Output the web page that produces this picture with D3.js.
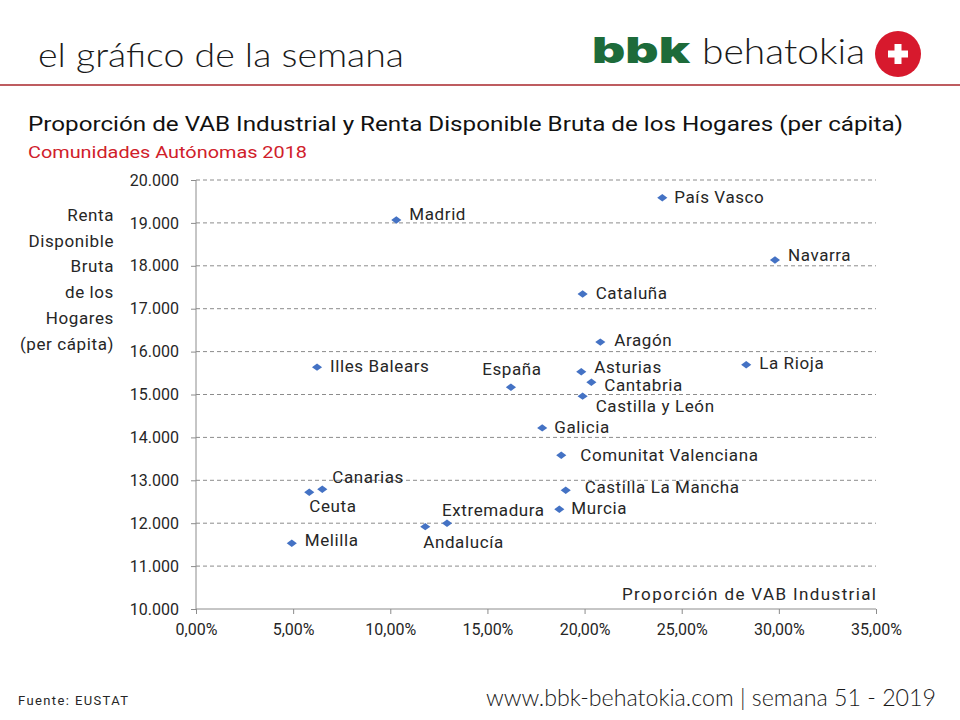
<!DOCTYPE html>
<html>
<head>
<meta charset="utf-8">
<script src="https://cdn.jsdelivr.net/npm/d3@7"></script>
<style>
  body { margin: 0; background: #fff; }
  svg text { font-family: Roboto, "DejaVu Sans", sans-serif; }
</style>
</head>
<body>
<div id="chart"></div>
<script>
// Comunidades autónomas 2018: % VAB industrial vs renta disponible bruta per cápita
const regions = ["Madrid", "País Vasco", "Navarra", "Cataluña", "Aragón", "La Rioja",
    "Asturias", "Cantabria", "Castilla y León", "Illes Balears", "España", "Galicia",
    "Comunitat Valenciana", "Castilla La Mancha", "Murcia", "Canarias", "Ceuta",
    "Extremadura", "Andalucía", "Melilla"];
const vabShare = [10.31, 24.0, 29.8, 19.9, 20.81, 28.32, 19.83, 20.35, 19.9, 6.23, 16.21,
    17.82, 18.8, 19.03, 18.7, 6.5, 5.83, 12.92, 11.8, 4.93];
const renta = [19067, 19587, 18134, 17341, 16221, 15692, 15528, 15288, 14962, 15638, 15171,
    14222, 13585, 12769, 12326, 12792, 12722, 11999, 11920, 11532];

const xTicks = [0, 5, 10, 15, 20, 25, 30, 35];
const yTicks = [10000, 11000, 12000, 13000, 14000, 15000, 16000, 17000, 18000, 19000, 20000];
const yTitleLines = ["Renta", "Disponible", "Bruta", "de los ", "Hogares", "(per cápita)"];

// label placement next to each point: [dx, dy, anchor]
const labelPos = [[13, 0, "start"], [12, 5, "start"], [13, 1, "start"], [13, 5, "start"],
    [14, 4, "start"], [13, 4, "start"], [13, 1, "start"], [13, 9, "start"], [13, 16, "start"],
    [13, 5, "start"], [1, -12, "middle"], [12, 5, "start"], [19, 6, "start"], [19, 3, "start"],
    [12, 5, "start"], [10, -6, "start"], [0, 20, "start"], [-5, -7, "start"], [-2, 21, "start"],
    [13, 3, "start"]];

const width = 960, height = 720;
const plot = { left: 196, top: 180, right: 876, bottom: 609 };
const ink = "#262626";

const svg = d3.select("#chart")
    .append("svg")
    .attr("width", width)
    .attr("height", height);

// ---- header ----
svg.append("text")
    .attr("x", 38).attr("y", 67)
    .attr("font-size", 33).attr("font-weight", 300)
    .attr("fill", "#1a1a1a")
    .attr("textLength", 366).attr("lengthAdjust", "spacingAndGlyphs")
    .style("font-family", "Lato, Roboto, sans-serif")
    .text("el gráfico de la semana");

svg.append("text")
    .attr("x", 592).attr("y", 63)
    .attr("font-size", 36).attr("font-weight", 900)
    .attr("fill", "#1d6b3a")
    .attr("textLength", 98).attr("lengthAdjust", "spacingAndGlyphs")
    .style("font-family", "Inter, Roboto, sans-serif")
    .text("bbk");

svg.append("text")
    .attr("x", 702).attr("y", 64)
    .attr("font-size", 35).attr("font-weight", 300)
    .attr("fill", "#1a1a1a")
    .attr("textLength", 163).attr("lengthAdjust", "spacingAndGlyphs")
    .style("font-family", "Lato, Roboto, sans-serif")
    .text("behatokia");

svg.append("circle")
    .attr("cx", 898).attr("cy", 54).attr("r", 23)
    .attr("fill", "#d7192d");
svg.append("rect").attr("x", 888).attr("y", 50.5).attr("width", 20).attr("height", 7).attr("fill", "#fff");
svg.append("rect").attr("x", 894.5).attr("y", 44).attr("width", 7).attr("height", 20).attr("fill", "#fff");

svg.append("line")
    .attr("x1", 0).attr("x2", width)
    .attr("y1", 85).attr("y2", 85)
    .attr("stroke", "#a8262b").attr("stroke-width", 1.5);

// ---- titles ----
svg.append("text")
    .attr("x", 28).attr("y", 131)
    .attr("font-size", 21)
    .attr("fill", "#111")
    .attr("textLength", 875).attr("lengthAdjust", "spacingAndGlyphs")
    .text("Proporción de VAB Industrial y Renta Disponible Bruta de los Hogares (per cápita)");

svg.append("text")
    .attr("x", 28).attr("y", 158)
    .attr("font-size", 17)
    .attr("fill", "#d0202a")
    .attr("textLength", 279).attr("lengthAdjust", "spacingAndGlyphs")
    .text("Comunidades Autónomas 2018");

// ---- scales ----
const x = d3.scaleLinear().domain([0, 35]).range([plot.left, plot.right]);
const y = d3.scaleLinear().domain([10000, 20000]).range([plot.bottom, plot.top]);

// dashed grid
svg.append("g")
    .selectAll("line")
    .data(yTicks.filter(d => d > 10000))
    .join("line")
    .attr("x1", plot.left).attr("x2", plot.right)
    .attr("y1", d => y(d)).attr("y2", d => y(d))
    .attr("stroke", "#8c8c8c")
    .attr("stroke-dasharray", "4,3")
    .attr("stroke-width", 1);

const fmtY = d => d3.format(",")(d).replace(/,/g, ".");
const fmtX = d => d.toFixed(2).replace(".", ",") + "%";

const yAxis = svg.append("g")
    .attr("transform", `translate(${plot.left},0)`)
    .call(d3.axisLeft(y).tickValues(yTicks).tickFormat(fmtY).tickSize(5).tickPadding(12));

const xAxis = svg.append("g")
    .attr("transform", `translate(0,${plot.bottom})`)
    .call(d3.axisBottom(x).tickValues(xTicks).tickFormat(fmtX).tickSize(5).tickPadding(10));

[yAxis, xAxis].forEach(ax => {
    ax.select(".domain").attr("stroke", "#8c8c8c");
    ax.selectAll(".tick line").attr("stroke", "#8c8c8c");
    ax.selectAll(".tick text")
        .attr("fill", ink)
        .attr("font-size", 16)
        .style("font-family", "Roboto, sans-serif");
});
xAxis.select(".domain").attr("d", `M${plot.left},0H${plot.right}`);
yAxis.select(".domain").attr("d", `M0,${plot.bottom}V${plot.top}`);

// axis titles
svg.append("g")
    .selectAll("text")
    .data(yTitleLines)
    .join("text")
    .attr("x", 114)
    .attr("y", (d, i) => 221 + i * 25.7)
    .attr("text-anchor", "end")
    .attr("font-size", 17)
    .attr("letter-spacing", 0.6)
    .attr("fill", ink)
    .text(d => d);

svg.append("text")
    .attr("x", plot.right).attr("y", 600)
    .attr("text-anchor", "end")
    .attr("font-size", 17)
    .attr("fill", ink)
    .attr("textLength", 254).attr("lengthAdjust", "spacing")
    .text("Proporción de VAB Industrial");

// ---- points ----
const points = regions.map((name, i) => ({ name, vab: vabShare[i], renta: renta[i], pos: labelPos[i] }));

svg.append("g")
    .selectAll("path")
    .data(points)
    .join("path")
    .attr("transform", d => `translate(${x(d.vab)},${y(d.renta)}) scale(1.25,0.92)`)
    .attr("d", d3.symbol(d3.symbolDiamond2, 42))
    .attr("fill", "#4472c4");

svg.append("g")
    .selectAll("text")
    .data(points)
    .join("text")
    .attr("x", d => x(d.vab) + d.pos[0])
    .attr("y", d => y(d.renta) + d.pos[1])
    .attr("text-anchor", d => d.pos[2])
    .attr("font-size", 17)
    .attr("letter-spacing", 0.6)
    .attr("fill", ink)
    .text(d => d.name);

// ---- footer ----
svg.append("text")
    .attr("x", 18).attr("y", 705)
    .attr("font-size", 13)
    .attr("fill", ink)
    .attr("textLength", 110).attr("lengthAdjust", "spacing")
    .text("Fuente:  EUSTAT");

svg.append("text")
    .attr("x", 936).attr("y", 706)
    .attr("text-anchor", "end")
    .attr("font-size", 23).attr("font-weight", 300)
    .attr("fill", "#1a1a1a")
    .attr("textLength", 450).attr("lengthAdjust", "spacingAndGlyphs")
    .style("font-family", "Lato, Roboto, sans-serif")
    .text("www.bbk-behatokia.com | semana 51 - 2019");
</script>
</body>
</html>
